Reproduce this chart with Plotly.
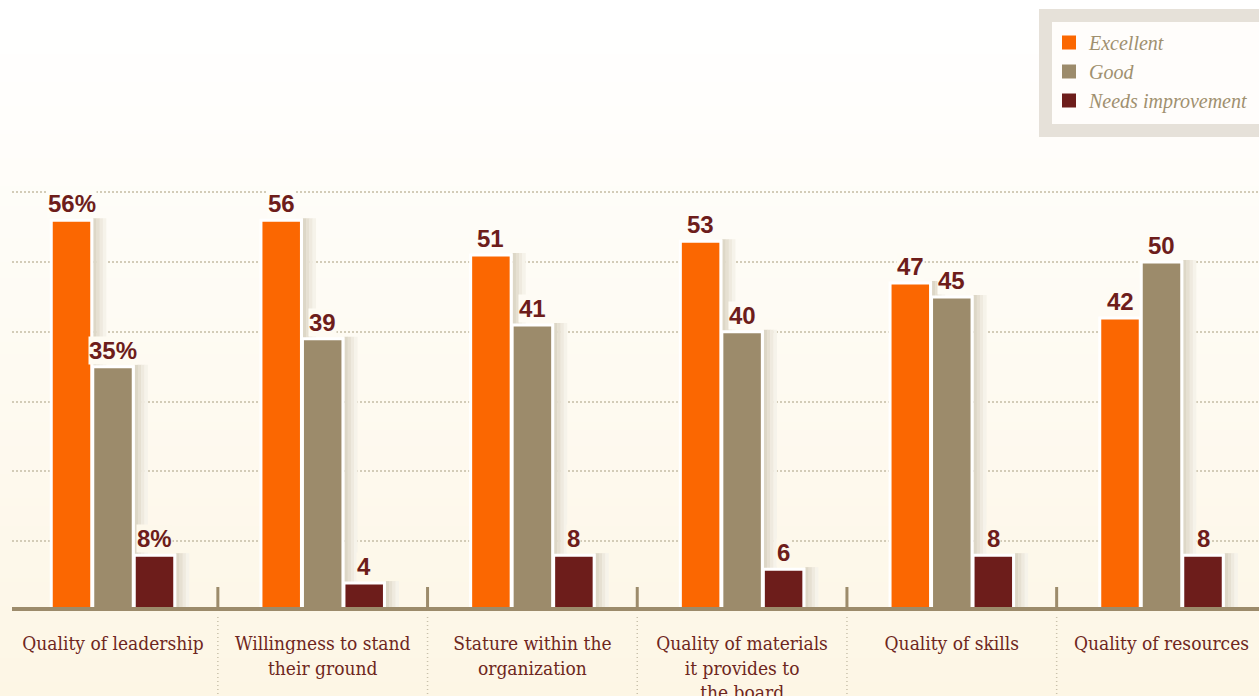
import base64, struct, zlib
import plotly.graph_objects as go

# ---------------- data ----------------
categories = ["Quality of leadership", "Willingness to stand<br>their ground",
              "Stature within the<br>organization", "Quality of materials<br>it provides to<br>the board",
              "Quality of skills", "Quality of resources"]
excellent = [56, 56, 51, 53, 47, 42]
good = [35, 39, 41, 40, 45, 50]
needs_improvement = [8, 4, 8, 6, 8, 8]
series_names = ["Excellent", "Good", "Needs improvement"]
series_colors = ["#fb6701", "#9c8b6b", "#6d1d1b"]

# ---------------- geometry (pixels) ----------------
W, H = 1259, 696
ML, MR, MT, MB = 12, 0, 126, 85
PW, PH = W - ML - MR, H - MT - MB
YMAX = 69.5
CAT_PX = 209.7
X0 = -0.5 + (12 - (113.0 - CAT_PX / 2)) / CAT_PX
X1 = X0 + PW / CAT_PX
px_x = 1.0 / CAT_PX
px_y = YMAX / PH

bar_w = 40.5 * px_x
bar_line = 3
offsets = [-41.5 * px_x, 0.0, 41.5 * px_x]
shadow_cols = ["#ddd7c7", "#e6e0d2", "#efeadf", "#f6f3ea"]
shadow_step = 3.2

# ---------------- background gradient image ----------------
def bg_color(py):
    t = max(0.0, min(1.0, (py - 15) / (H - 15)))
    top = (255, 255, 255)
    bot = (253, 246, 229)
    return tuple(int(round(a + (b - a) * t)) for a, b in zip(top, bot))

def png_gradient(h):
    raw = b""
    for py in range(h):
        raw += b"\x00" + bytes(bg_color(py * H / h))
    def chunk(tag, data):
        c = struct.pack(">I", len(data)) + tag + data
        return c + struct.pack(">I", zlib.crc32(tag + data) & 0xffffffff)
    png = b"\x89PNG\r\n\x1a\n"
    png += chunk(b"IHDR", struct.pack(">IIBBBBB", 1, h, 8, 2, 0, 0, 0))
    png += chunk(b"IDAT", zlib.compress(raw))
    png += chunk(b"IEND", b"")
    return "data:image/png;base64," + base64.b64encode(png).decode()

fig = go.Figure()
xs = list(range(len(categories)))
all_series = [excellent, good, needs_improvement]

for s, (vals, name, col, off) in enumerate(zip(all_series, series_names, series_colors, offsets)):
    # soft shadow to the right of each bar
    for k, sc in enumerate(shadow_cols):
        fig.add_trace(go.Bar(
            x=xs, y=[v + 2 * px_y for v in vals],
            offset=off + bar_w / 2 + (1.5 + k * shadow_step) * px_x,
            width=shadow_step * px_x + 0.3 * px_x,
            marker=dict(color=sc, line=dict(width=0)),
            showlegend=False, hoverinfo="skip"))
    fig.add_trace(go.Bar(
        x=xs, y=vals, name=name,
        offset=off - bar_w / 2, width=bar_w,
        marker=dict(color=col, line=dict(color="#ffffff", width=bar_line)),
        showlegend=False, hoverinfo="y+name"))

# legend entries (square swatches)
for name, col in zip(series_names, series_colors):
    fig.add_trace(go.Scatter(
        x=[None], y=[None], mode="markers", name=name,
        marker=dict(symbol="square", size=14, color=col, line=dict(width=0)),
        showlegend=True))

# value labels
annotations = []
for s, (vals, off) in enumerate(zip(all_series, offsets)):
    for i, v in enumerate(vals):
        txt = f"{v}%" if i == 0 else f"{v}"
        py = MT + (YMAX - v) / px_y
        c = bg_color(py - 18)
        annotations.append(dict(
            x=i + off, y=v, xref="x", yref="y", text=f"<b>{txt}</b>",
            showarrow=False, yanchor="bottom", yshift=2,
            font=dict(family="Liberation Sans, Arial", size=24, color="#6d1d1b"),
            bgcolor="rgb(%d,%d,%d)" % c, borderpad=0))

shapes = []
# baseline
shapes.append(dict(type="line", xref="paper", yref="y", x0=0, x1=1, y0=0, y1=0,
                   line=dict(color="#9c8b6b", width=8), layer="above"))
# category separators
for b in range(len(categories) - 1):
    xb = b + 0.5
    shapes.append(dict(type="line", xref="x", yref="y", x0=xb, x1=xb,
                       y0=0, y1=24 * px_y, line=dict(color="#9c8b6b", width=3), layer="above"))
    shapes.append(dict(type="line", xref="x", yref="paper", x0=xb, x1=xb,
                       y0=-6 / PH, y1=-MB / PH, line=dict(color="#c9c1ab", width=1.5, dash="1px,3px"),
                       layer="above"))
# legend frame
shapes.append(dict(type="rect", xref="paper", yref="paper",
                   x0=(1039 + 6.5 - ML) / PW, x1=(1280 - ML) / PW,
                   y0=(MT + PH - 137 + 6.5) / PH, y1=(MT + PH - 9 - 6.5) / PH,
                   line=dict(color="#e6e1d9", width=13), fillcolor="#fffdfb", layer="below"))

fig.update_layout(
    width=W, height=H,
    margin=dict(l=ML, r=MR, t=MT, b=MB, autoexpand=False),
    paper_bgcolor="#fdf6e5", plot_bgcolor="rgba(0,0,0,0)",
    barmode="overlay",
    showlegend=True,
    legend=dict(x=(1049 - ML) / PW, y=(MT + PH - 23) / PH, xanchor="left", yanchor="top",
                bgcolor="rgba(0,0,0,0)", borderwidth=0, itemsizing="trace",
                font=dict(family="Liberation Serif", size=20, color="#a0906f", style="italic"),
                itemwidth=30, tracegroupgap=0),
    xaxis=dict(range=[X0, X1], tickvals=xs, ticktext=categories, showgrid=False,
               zeroline=False, showline=False, ticks="",
               tickfont=dict(family="DejaVu Serif Condensed, Liberation Serif", size=19, color="#6e2620"),
               ticklabelstandoff=19),
    yaxis=dict(range=[0, YMAX], dtick=10, showgrid=True, gridcolor="#d3ccb8", gridwidth=2,
               griddash="2px,2px", zeroline=False, showticklabels=False, ticks=""),
    annotations=annotations,
    shapes=shapes,
    images=[dict(source=png_gradient(174), xref="paper", yref="paper",
                 x=-ML / PW, y=(MT + PH) / PH, sizex=W / PW, sizey=H / PH,
                 sizing="stretch", xanchor="left", yanchor="top", layer="below")],
    hovermode="closest",
)

fig.write_html("out.html", config={"displayModeBar": False},
               post_script="document.body.style.margin='0';")
